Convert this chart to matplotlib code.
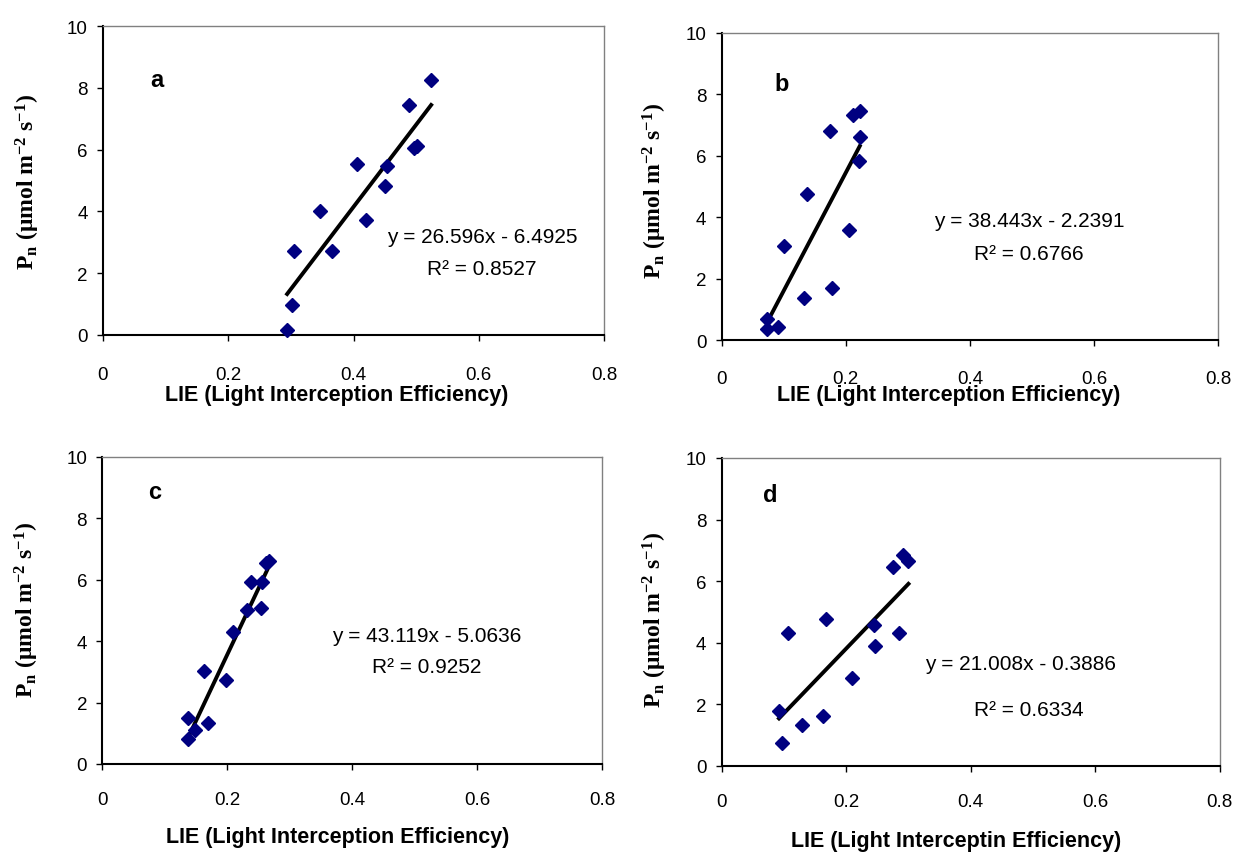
import matplotlib
matplotlib.use("Agg")
import matplotlib.pyplot as plt
import numpy as np

plt.rcParams['font.family'] = ['Liberation Sans', 'DejaVu Sans']
plt.rcParams['mathtext.fontset'] = 'custom'
plt.rcParams['mathtext.rm'] = 'Liberation Serif:bold'
plt.rcParams['mathtext.bf'] = 'Liberation Serif:bold'
plt.rcParams['mathtext.it'] = 'Liberation Serif:bold'

# panel a
lie_a = [0.294, 0.301, 0.305, 0.346, 0.366, 0.405, 0.420, 0.450, 0.453, 0.489, 0.496, 0.502, 0.524]
pn_a = [0.17, 0.96, 2.71, 4.02, 2.71, 5.54, 3.71, 4.81, 5.46, 7.43, 6.05, 6.13, 8.24]
# panel b
lie_b = [0.073, 0.073, 0.090, 0.100, 0.132, 0.138, 0.174, 0.178, 0.206, 0.212, 0.2225, 0.2225, 0.221]
pn_b = [0.68, 0.36, 0.43, 3.07, 1.38, 4.76, 6.81, 1.68, 3.59, 7.33, 7.47, 6.60, 5.84]
# panel c
lie_c = [0.138, 0.138, 0.148, 0.170, 0.163, 0.198, 0.209, 0.231, 0.254, 0.238, 0.255, 0.262, 0.267]
pn_c = [0.81, 1.49, 1.12, 1.33, 3.02, 2.74, 4.29, 5.02, 5.07, 5.94, 5.92, 6.55, 6.62]
# panel d
lie_d = [0.0965, 0.092, 0.129, 0.162, 0.106, 0.167, 0.210, 0.244, 0.2455, 0.285, 0.2745, 0.291, 0.300]
pn_d = [0.75, 1.77, 1.32, 1.62, 4.33, 4.76, 2.87, 4.59, 3.90, 4.33, 6.45, 6.86, 6.67]

slopes = [26.596, 38.443, 43.119, 21.008]
intercepts = [-6.4925, -2.2391, -5.0636, -0.3886]
r2 = ["0.8527", "0.6766", "0.9252", "0.6334"]
letters = ["a", "b", "c", "d"]
xlabels = ["LIE (Light Interception Efficiency)", "LIE (Light Interception Efficiency)",
           "LIE (Light Interception Efficiency)", "LIE (Light Interceptin Efficiency)"]
xticks = [0, 0.2, 0.4, 0.6, 0.8]
xticklabels = ["0", "0.2", "0.4", "0.6", "0.8"]
yticks = [0, 2, 4, 6, 8, 10]

xs = [lie_a, lie_b, lie_c, lie_d]
ys = [pn_a, pn_b, pn_c, pn_d]

# axes boxes (pixels: left, right, bottom, top)
boxes = [(103, 604, 336, 27), (721.7, 1218, 341, 34), (102.3, 602, 765, 458), (721.7, 1219.7, 767, 459)]
letter_pos = [(0.086, 8.28), (0.097, 8.37), (0.084, 8.89), (0.078, 8.8)]
eq_pos = [((0.605, 3.2), (0.605, 2.14)), ((0.495, 3.88), (0.495, 2.83)),
          ((0.52, 4.17), (0.52, 3.16)), ((0.48, 3.34), (0.494, 1.85))]
ylab_pos = [(-0.15, 0.5), (-0.135, 0.49), (-0.15, 0.505), (-0.135, 0.477)]
xlab_pos = [(0.467, -0.194), (0.458, -0.179), (0.471, -0.235), (0.47, -0.243)]
xpads = [18, 17, 15, 15]

W, H = 1240, 862
fig = plt.figure(figsize=(12.4, 8.62), dpi=100)

for i in range(4):
    l, r, b, t = boxes[i]
    ax = fig.add_axes([l / W, 1 - b / H, (r - l) / W, (b - t) / H])
    x = np.array(xs[i])
    y = np.array(ys[i])
    ax.plot(x, y, 'D', color='#000080', markersize=7, zorder=3, clip_on=False)
    xf = np.array([x.min(), x.max()])
    ax.plot(xf, slopes[i] * xf + intercepts[i], '-', color='black', lw=2.8, zorder=2)
    ax.set_xlim(0, 0.8)
    ax.set_ylim(0, 10)
    ax.set_xticks(xticks)
    ax.set_xticklabels(xticklabels)
    ax.set_yticks(yticks)
    ax.tick_params(direction='out', length=4.5, width=1, labelsize=13.5, color='black')
    ax.tick_params(axis='y', pad=6.5)
    ax.tick_params(axis='x', pad=xpads[i])
    # grey plot-area border on top/right, black axes on left/bottom
    for side in ['top', 'right']:
        ax.spines[side].set_color('#808080')
        ax.spines[side].set_linewidth(1)
    ax.spines['left'].set_linewidth(1.5)
    ax.spines['bottom'].set_linewidth(1.5)
    ax.text(letter_pos[i][0], letter_pos[i][1], letters[i], fontsize=17, fontweight='bold',
            ha='center', va='center')
    sign = '-' if intercepts[i] < 0 else '+'
    eq = "y = %.3fx %s %.4f" % (slopes[i], sign, abs(intercepts[i]))
    ax.text(eq_pos[i][0][0], eq_pos[i][0][1], eq, fontsize=15, ha='center', va='center')
    ax.text(eq_pos[i][1][0], eq_pos[i][1][1], "R\u00b2 = " + r2[i], fontsize=15, ha='center', va='center')
    ax.set_ylabel(r'$\mathbf{P_n}$' + ' (\u03bcmol m' + r'$^{\mathbf{-2}}$' + ' s' + r'$^{\mathbf{-1}}$' + ')',
                  fontfamily='Liberation Serif', fontweight='bold', fontsize=17, va='center')
    ax.yaxis.set_label_coords(*ylab_pos[i])
    ax.set_xlabel(xlabels[i], fontsize=15.5, fontweight='bold', va='center')
    ax.xaxis.set_label_coords(*xlab_pos[i])

fig.savefig("out.png", dpi=100)
